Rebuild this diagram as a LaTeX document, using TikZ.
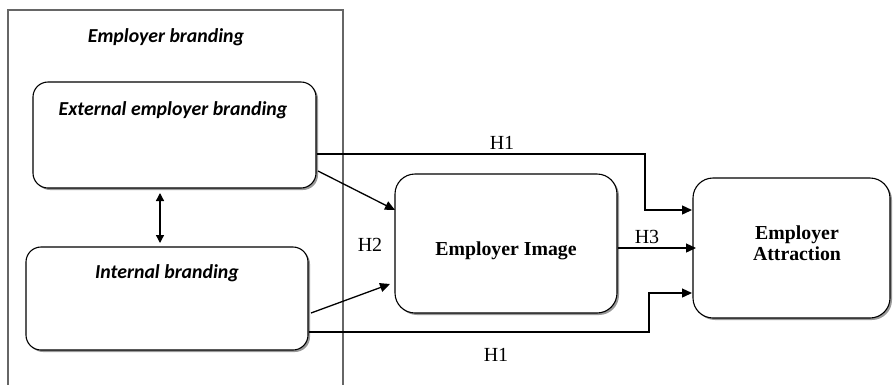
\documentclass[tikz,border=0pt]{standalone}
\usepackage{fontspec}
\setmainfont{Liberation Serif}
\newfontfamily\calfont{Carlito}
\usetikzlibrary{arrows.meta,shadows}
\begin{document}
\begin{tikzpicture}[x=1pt,y=-1pt,
  box/.style={draw=black, line width=1.1pt, rounded corners=15pt, fill=white,
    drop shadow={shadow xshift=2pt, shadow yshift=-2pt, fill=black!50, opacity=0.8}},
  arr/.style={line width=1.3pt, -{Triangle[length=10pt,width=9pt]}},
  calt/.style={font=\calfont\bfseries\itshape\fontsize{19.8}{22}\selectfont},
  timt/.style={font=\bfseries\fontsize{19.8}{22}\selectfont, align=center},
  hlab/.style={font=\fontsize{20}{22}\selectfont}]
\useasboundingbox (0,0) rectangle (893,384);
\clip (0,0) rectangle (893,384);
% outer frame
\draw[black!60, line width=1.4pt] (8,10) rectangle (343,400);
\node[calt] (title) at (166,37) {Employer branding};
% boxes
\node[box, minimum width=283pt, minimum height=106pt] (ext) at (174.5,135) {};
\node[calt] (extt) at (173,110) {External employer branding};
\node[box, minimum width=282pt, minimum height=103pt] (int) at (167,298.5) {};
\node[calt] (intt) at (167,273) {Internal branding};
\node[box, rounded corners=20pt, minimum width=222pt, minimum height=139pt] (img) at (506,243.5) {};
\node[timt] (imgt) at (506,251) {Employer Image};
\node[box, rounded corners=20pt, minimum width=197pt, minimum height=140pt] (att) at (791.5,248) {};
\node[timt] (attt) at (797,243) {Employer\\[-1pt]Attraction};
% double arrow
\coordinate (dtop) at (160,193);
\coordinate (dbot) at (160,243);
\draw[line width=1.3pt, {Triangle[length=8pt,width=8pt]}-{Triangle[length=8pt,width=8pt]}] (dtop) -- (dbot);
% H1 top
\coordinate (t1) at (645,154);
\coordinate (t2) at (692,210);
\draw[arr] (ext.east |- t1) -- (t1) |- (t2);
% H1 bottom
\coordinate (b1) at (649,332);
\coordinate (b2) at (692,293);
\draw[arr] (int.east |- b1) -- (b1) |- (b2);
% H3
\coordinate (h3e) at (696,248);
\draw[arr] (img.east |- h3e) -- (h3e);
% H2
\coordinate (e1) at (318,171);
\coordinate (e2) at (395,210);
\draw[arr] (e1) -- (e2);
\coordinate (i1) at (311,313);
\coordinate (i2) at (390,284);
\draw[arr] (i1) -- (i2);
% labels
\node[hlab] (lh1a) at (502,143) {H1};
\node[hlab] (lh1b) at (496,355) {H1};
\node[hlab] (lh2) at (370,245) {H2};
\node[hlab] (lh3) at (647,237) {H3};
\end{tikzpicture}
\end{document}
